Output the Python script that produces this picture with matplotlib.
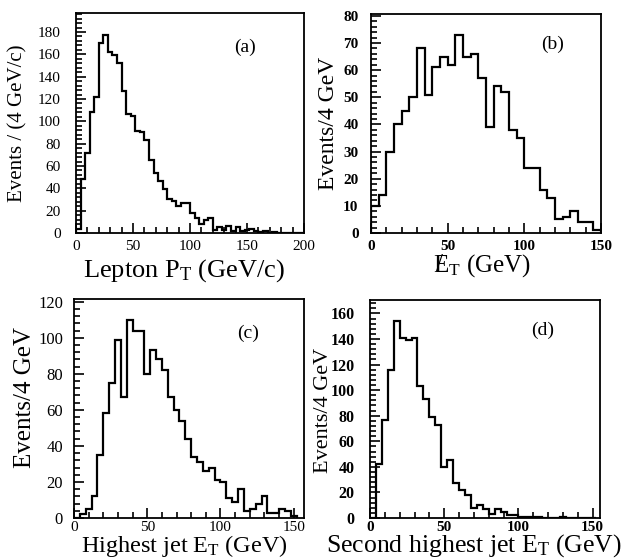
import numpy as np
import matplotlib
matplotlib.use("Agg")
import matplotlib.pyplot as plt
from matplotlib.ticker import MultipleLocator

plt.rcParams['font.family'] = ['Liberation Serif', 'DejaVu Serif']
plt.rcParams['mathtext.fontset'] = 'custom'
plt.rcParams['mathtext.rm'] = 'Liberation Serif'
plt.rcParams['mathtext.it'] = 'Liberation Serif:italic'

# (a) Lepton PT, 4 GeV/c bins 0-200
lep_edges_step = 4
lep_pt = [4, 48, 72, 108, 122, 170, 177, 162, 159, 152,
          127, 107, 105, 91, 90, 83, 65, 54, 47, 39,
          30, 29, 24, 27, 27, 18, 13, 8, 12, 13,
          3, 5, 3, 6, 2, 5, 2, 3, 4, 2,
          1, 2, 0, 1, 0, 0, 0, 0, 0, 0]

# (b) Missing ET, 5 GeV bins 0-150
met_step = 5
met = [10, 14, 30, 40, 45, 50, 68, 51, 61, 65,
       62, 73, 65, 66, 57, 39, 54, 52, 38, 35,
       24, 24, 16, 13, 5, 6, 8, 4, 4, 1]

# (c) Highest jet ET, 4 GeV bins 0-152
jet1_step = 4
jet1 = [0, 2, 5, 12, 35, 58, 75, 99, 67, 110,
        104, 104, 80, 93, 88, 82, 67, 60, 54, 44,
        34, 31, 26, 28, 21, 20, 11, 9, 16, 4,
        5, 8, 12, 3, 3, 5, 4, 1]

# (d) Second highest jet ET, 4 GeV bins 0-152
jet2_step = 4
jet2 = [0, 42, 77, 116, 154, 141, 139, 141, 103, 93,
        79, 73, 40, 45, 27, 22, 18, 8, 10, 7,
        3, 7, 5, 2, 2, 1, 1, 1, 1, 0,
        0, 0, 1, 0, 0, 0, 0, 0]

W, H = 637, 559
fig = plt.figure(figsize=(W / 100, H / 100), dpi=100)

def px_axes(l, r, t, b):
    ax = fig.add_axes([l / W, 1 - b / H, (r - l) / W, (b - t) / H])
    ax._px = (l, r, t, b)
    return ax

def style(ax, xmax, ymax, xmaj, xmin, ymaj, ymin, lsize=11, bold=False,
          ypad=9, xpad=5, xlsize=None):
    ax.set_xlim(0, xmax)
    ax.set_ylim(0, ymax)
    ax.xaxis.set_major_locator(MultipleLocator(xmaj))
    ax.xaxis.set_minor_locator(MultipleLocator(xmin))
    ax.yaxis.set_major_locator(MultipleLocator(ymaj))
    ax.yaxis.set_minor_locator(MultipleLocator(ymin))
    ax.tick_params(which='both', direction='in', top=False, right=False,
                   labelsize=lsize, width=1.2)
    ax.tick_params(which='major', length=7)
    ax.tick_params(which='minor', length=4)
    ax.tick_params(axis='x', pad=xpad, labelsize=xlsize or lsize)
    ax.tick_params(axis='y', pad=ypad)
    if bold:
        for t in ax.get_xticklabels() + ax.get_yticklabels():
            t.set_fontweight('bold')
    for s in ax.spines.values():
        s.set_linewidth(1.3)

def labels(ax, xl, xsize, x_cx, x_base, yl, ysize, y_cx, y_cy):
    l, r, t, b = ax._px
    ax.set_xlabel(xl, fontsize=xsize, va='baseline')
    ax.xaxis.set_label_coords((x_cx - l) / (r - l), (b - x_base) / (b - t))
    ax.set_ylabel(yl, fontsize=ysize, va='center')
    ax.yaxis.set_label_coords((y_cx - l) / (r - l), (b - y_cy) / (b - t))

def hist(ax, vals, step):
    edges = np.arange(len(vals) + 1) * step
    ax.stairs(vals, edges, color='black', linewidth=1.6)

# (a)
ax = px_axes(76, 304, 13, 233)
hist(ax, lep_pt, lep_edges_step)
style(ax, 200, 197, 50, 10, 20, 4, lsize=11, ypad=11)
labels(ax, r'Lepton P$_\mathrm{T}$ (GeV/c)', 19, 184, 277,
       'Events / (4 GeV/c)', 15, 18, 123)
ax.text(0.74, 0.845, '(a)', transform=ax.transAxes, fontsize=14, ha='center', va='center')

# (b)
ax = px_axes(371, 601, 14, 233)
hist(ax, met, met_step)
style(ax, 150, 80.7, 50, 10, 10, 2, lsize=11, bold=True, ypad=9)
labels(ax, r'E$_\mathrm{T}$ (GeV)', 18, 482, 272,
       'Events/4 GeV', 17, 329, 123)
ax.text(0.79, 0.86, '(b)', transform=ax.transAxes, fontsize=14, ha='center', va='center')
fig.text(439 / W, 1 - 265 / H, '/', fontsize=18, ha='center', va='center')

# (c)
ax = px_axes(74, 304, 299, 518)
hist(ax, jet1, jet1_step)
style(ax, 157, 121.5, 50, 10, 20, 4, lsize=12, ypad=8, xpad=2.5, xlsize=11)
labels(ax, r'Highest jet E$_\mathrm{T}$ (GeV)', 17.5, 184, 552,
       'Events/4 GeV', 18, 25, 398)
ax.text(0.757, 0.845, '(c)', transform=ax.transAxes, fontsize=14, ha='center', va='center')

# (d)
ax = px_axes(370, 600, 300, 518)
hist(ax, jet2, jet2_step)
style(ax, 155, 170.5, 50, 10, 20, 4, lsize=11.5, bold=True, ypad=11, xpad=2.5, xlsize=11)
labels(ax, r'Second highest jet E$_\mathrm{T}$ (GeV)', 18.5, 474, 552,
       'Events/4 GeV', 16, 323, 410)
ax.text(0.75, 0.862, '(d)', transform=ax.transAxes, fontsize=14, ha='center', va='center')

fig.savefig('out.png', dpi=100)
